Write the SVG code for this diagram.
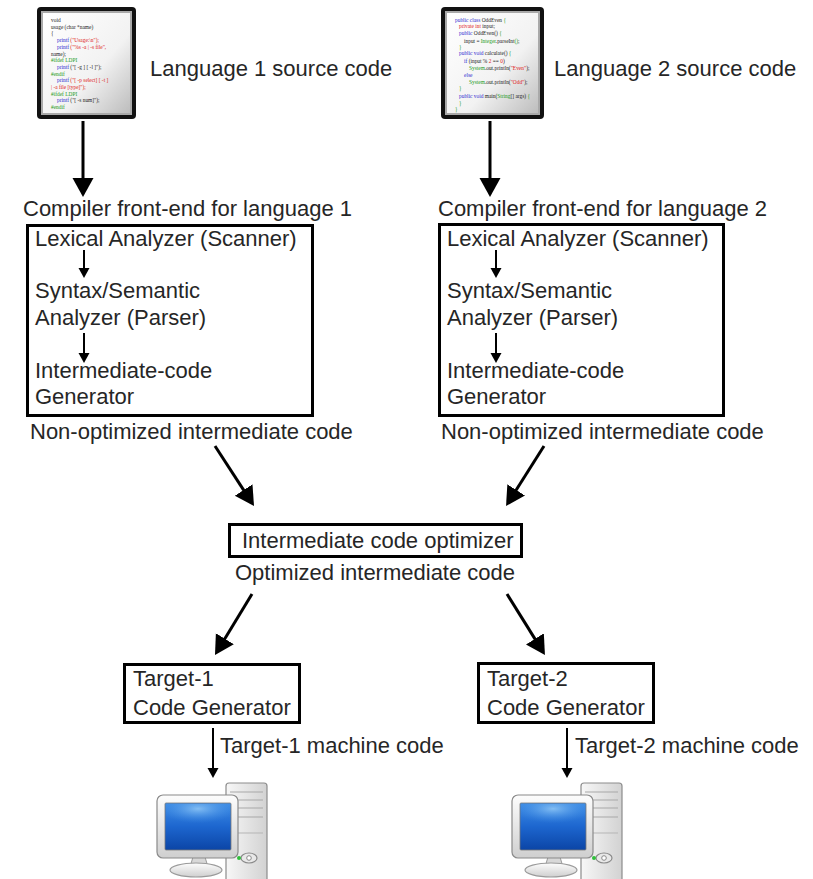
<svg xmlns="http://www.w3.org/2000/svg" width="813" height="879" viewBox="0 0 813 879">
  <style>
    .lbl { font-family: "Liberation Sans", Arial, sans-serif; font-size: 22px; fill: #262626; }
    .box { fill: #ffffff; stroke: #000000; stroke-width: 3; }
    .big { stroke: #000000; stroke-width: 3; fill: none; }
    .small { stroke: #000000; stroke-width: 2; fill: none; }
    .code { font-family: "Liberation Serif", "DejaVu Serif", serif; font-size: 5.4px; }
    .k { fill: #2a2ad0; }
    .s { fill: #e02020; }
    .g { fill: #1a9a1a; }
    .p { fill: #222222; }
  </style>
  <defs>
    <marker id="headBig" markerUnits="userSpaceOnUse" markerWidth="20" markerHeight="22" refX="3" refY="10.5" orient="auto">
      <path d="M0,0 L19,10.5 L0,21 z" fill="#000"/>
    </marker>
    <marker id="headSmall" markerUnits="userSpaceOnUse" markerWidth="12" markerHeight="12" refX="2" refY="5.5" orient="auto">
      <path d="M0,0 L10,5.5 L0,11 z" fill="#000"/>
    </marker>
    <linearGradient id="paper" x1="0" y1="0" x2="1" y2="1">
      <stop offset="0" stop-color="#ffffff"/>
      <stop offset="0.6" stop-color="#f2f2f2"/>
      <stop offset="1" stop-color="#bdbdbd"/>
    </linearGradient>
    <linearGradient id="bezel" x1="0" y1="0" x2="0" y2="1">
      <stop offset="0" stop-color="#fdfdfd"/>
      <stop offset="1" stop-color="#cfcfcf"/>
    </linearGradient>
    <linearGradient id="case" x1="0" y1="0" x2="1" y2="0">
      <stop offset="0" stop-color="#f7f7f7"/>
      <stop offset="1" stop-color="#d2d2d2"/>
    </linearGradient>
    <linearGradient id="screen" x1="0" y1="0" x2="0" y2="1">
      <stop offset="0" stop-color="#3f8ee6"/>
      <stop offset="0.5" stop-color="#1d66cf"/>
      <stop offset="1" stop-color="#0b45a6"/>
    </linearGradient>
    <radialGradient id="glare" cx="0.5" cy="0.2" r="0.6">
      <stop offset="0" stop-color="#8cc4f5" stop-opacity="0.9"/>
      <stop offset="1" stop-color="#3f8ee6" stop-opacity="0"/>
    </radialGradient>
    <!-- desktop computer: monitor with stand, tower case -->
    <g id="computer">
      <rect x="226" y="783" width="41" height="100" rx="3" fill="url(#case)" stroke="#8c8c8c" stroke-width="1.2"/>
      <path d="M230,792 H263 M230,800 H263 M230,808 H263 M230,817 H263" stroke="#a8a8a8" stroke-width="1.2"/>
      <path d="M230,833 H263" stroke="#b5b5b5" stroke-width="1"/>
      <path d="M193,857 L190,867 L208,867 L205,857 z" fill="#d8d8d8" stroke="#9a9a9a" stroke-width="1"/>
      <ellipse cx="196" cy="870" rx="26" ry="7" fill="url(#bezel)" stroke="#9a9a9a" stroke-width="1.2"/>
      <rect x="157" y="795" width="81" height="63" rx="6" fill="url(#bezel)" stroke="#8a8a8a" stroke-width="1.2"/>
      <rect x="165" y="803" width="66" height="47" rx="1" fill="url(#screen)" stroke="#7a7a7a" stroke-width="0.8"/>
      <path d="M166,804 H230 V822 Q198,834 166,822 z" fill="url(#glare)"/>
      <ellipse cx="249" cy="858" rx="8" ry="5" fill="#e8e8e8" stroke="#8a8a8a" stroke-width="1.2"/>
      <circle cx="249" cy="858" r="2.3" fill="#ffffff" stroke="#8a8a8a" stroke-width="1"/>
      <circle cx="239" cy="858" r="2" fill="#2fbf3a"/>
    </g>
  </defs>

  <rect width="813" height="879" fill="#ffffff"/>

  <!-- Language 1 source file -->
  <g id="src1">
    <rect x="37" y="7" width="99" height="112" rx="4" fill="#111111"/>
    <rect x="41" y="11" width="91" height="104" fill="#a9a9a9"/>
    <rect x="43" y="13" width="87" height="100" fill="url(#paper)"/>
    <g class="code">
      <text x="51" y="22" class="p">void</text>
      <text x="51" y="28.7" class="p">usage (char *name)</text>
      <text x="51" y="35.4" class="p">{</text>
      <text x="57" y="42.1"><tspan class="k">printf</tspan><tspan class="s"> ("Usage:\n");</tspan></text>
      <text x="57" y="48.8"><tspan class="k">printf</tspan><tspan class="s"> ("%s -a | -s file",</tspan></text>
      <text x="51" y="55.5" class="p">name);</text>
      <text x="51" y="62.2" class="g">#ifdef LDPI</text>
      <text x="57" y="68.9"><tspan class="k">printf</tspan><tspan class="p"> ("[ -g ] [ -l ]");</tspan></text>
      <text x="51" y="75.6" class="g">#endif</text>
      <text x="57" y="82.3"><tspan class="k">printf</tspan><tspan class="s"> ("[ -p select] [ -t ]</tspan></text>
      <text x="51" y="89" class="s">| -a file [type]");</text>
      <text x="51" y="95.7" class="g">#ifdef LDPI</text>
      <text x="57" y="102.4"><tspan class="k">printf</tspan><tspan class="p"> ("[ -s num]");</tspan></text>
      <text x="51" y="109.1" class="g">#endif</text>
    </g>
  </g>
  <text class="lbl" x="150" y="76">Language 1 source code</text>

  <!-- Language 2 source file -->
  <g id="src2">
    <rect x="441" y="7" width="103" height="112" rx="4" fill="#111111"/>
    <rect x="445" y="11" width="95" height="104" fill="#a9a9a9"/>
    <rect x="447" y="13" width="91" height="100" fill="url(#paper)"/>
    <g class="code">
      <text x="455" y="22"><tspan class="k">public class</tspan><tspan class="p"> OddEven </tspan><tspan class="g">{</tspan></text>
      <text x="459" y="28"><tspan class="s">private int</tspan><tspan class="p"> input;</tspan></text>
      <text x="459" y="35"><tspan class="k">public</tspan><tspan class="p"> OddEven() </tspan><tspan class="g">{</tspan></text>
      <text x="464" y="43"><tspan class="p">input = </tspan><tspan class="g">Integer</tspan><tspan class="p">.parseInt</tspan><tspan class="g">()</tspan><tspan class="p">;</tspan></text>
      <text x="459" y="49" class="g">}</text>
      <text x="459" y="55"><tspan class="k">public void</tspan><tspan class="p"> calculate() </tspan><tspan class="g">{</tspan></text>
      <text x="464" y="63"><tspan class="k">if</tspan><tspan class="p"> (input % </tspan><tspan class="s">2</tspan><tspan class="p"> == </tspan><tspan class="s">0</tspan><tspan class="p">)</tspan></text>
      <text x="469" y="70"><tspan class="g">System</tspan><tspan class="p">.out.println(</tspan><tspan class="s">"Even"</tspan><tspan class="p">);</tspan></text>
      <text x="464" y="77" class="k">else</text>
      <text x="469" y="84"><tspan class="g">System</tspan><tspan class="p">.out.println(</tspan><tspan class="s">"Odd"</tspan><tspan class="p">);</tspan></text>
      <text x="459" y="90" class="g">}</text>
      <text x="459" y="98"><tspan class="k">public void</tspan><tspan class="p"> main(</tspan><tspan class="g">String</tspan><tspan class="p">[] args) </tspan><tspan class="g">{</tspan></text>
      <text x="459" y="105" class="g">}</text>
      <text x="455" y="111" class="g">}</text>
    </g>
  </g>
  <text class="lbl" x="554" y="76">Language 2 source code</text>

  <!-- Front-end for language 1 -->
  <g id="frontend1">
    <text class="lbl" x="23" y="216">Compiler front-end for language 1</text>
    <rect class="box" x="27.5" y="225.5" width="285" height="190"/>
    <text class="lbl" x="35" y="246">Lexical Analyzer (Scanner)</text>
    <text class="lbl" x="35" y="298">Syntax/Semantic</text>
    <text class="lbl" x="35" y="325">Analyzer (Parser)</text>
    <text class="lbl" x="35" y="378">Intermediate-code</text>
    <text class="lbl" x="35" y="404">Generator</text>
    <text class="lbl" x="30" y="439">Non-optimized intermediate code</text>
  </g>

  <!-- Front-end for language 2 -->
  <g id="frontend2">
    <text class="lbl" x="438" y="216">Compiler front-end for language 2</text>
    <rect class="box" x="439.5" y="224.5" width="284" height="191"/>
    <text class="lbl" x="447" y="246">Lexical Analyzer (Scanner)</text>
    <text class="lbl" x="447" y="298">Syntax/Semantic</text>
    <text class="lbl" x="447" y="325">Analyzer (Parser)</text>
    <text class="lbl" x="447" y="378">Intermediate-code</text>
    <text class="lbl" x="447" y="404">Generator</text>
    <text class="lbl" x="441" y="439">Non-optimized intermediate code</text>
  </g>

  <!-- Shared optimizer -->
  <g id="optimizer">
    <rect class="box" x="229.5" y="524.5" width="292" height="32"/>
    <text class="lbl" x="242" y="548">Intermediate code optimizer</text>
    <text class="lbl" x="235" y="580">Optimized intermediate code</text>
  </g>

  <!-- Back-ends -->
  <g id="target1">
    <rect class="box" x="124.5" y="664.5" width="175" height="58"/>
    <text class="lbl" x="133" y="686">Target-1</text>
    <text class="lbl" x="133" y="715">Code Generator</text>
  </g>
  <g id="target2">
    <rect class="box" x="478.5" y="663.5" width="175" height="59"/>
    <text class="lbl" x="487" y="686">Target-2</text>
    <text class="lbl" x="487" y="715">Code Generator</text>
  </g>

  <text class="lbl" x="220" y="753">Target-1 machine code</text>
  <text class="lbl" x="575" y="753">Target-2 machine code</text>

  <!-- Machines -->
  <g id="machine1">
    <use href="#computer"/>
  </g>
  <g id="machine2">
    <use href="#computer" transform="translate(355,0)"/>
  </g>

  <!-- Connectors -->
  <g id="connectors">
    <line class="big" x1="83" y1="121" x2="83" y2="181" marker-end="url(#headBig)"/>
    <line class="big" x1="490" y1="121" x2="490" y2="181" marker-end="url(#headBig)"/>
    <line class="small" x1="84" y1="250" x2="84" y2="270" marker-end="url(#headSmall)"/>
    <line class="small" x1="84" y1="333" x2="84" y2="355" marker-end="url(#headSmall)"/>
    <line class="small" x1="496" y1="250" x2="496" y2="270" marker-end="url(#headSmall)"/>
    <line class="small" x1="496" y1="333" x2="496" y2="355" marker-end="url(#headSmall)"/>
    <line class="big" x1="215" y1="446" x2="245.3" y2="492.6" marker-end="url(#headBig)"/>
    <line class="big" x1="544" y1="446" x2="514.6" y2="492.5" marker-end="url(#headBig)"/>
    <line class="big" x1="252" y1="594" x2="223.3" y2="641.3" marker-end="url(#headBig)"/>
    <line class="big" x1="507" y1="594" x2="536.5" y2="641.4" marker-end="url(#headBig)"/>
    <line class="small" x1="213" y1="728" x2="213" y2="770" marker-end="url(#headSmall)"/>
    <line class="small" x1="567" y1="728" x2="567" y2="770" marker-end="url(#headSmall)"/>
  </g>
</svg>
